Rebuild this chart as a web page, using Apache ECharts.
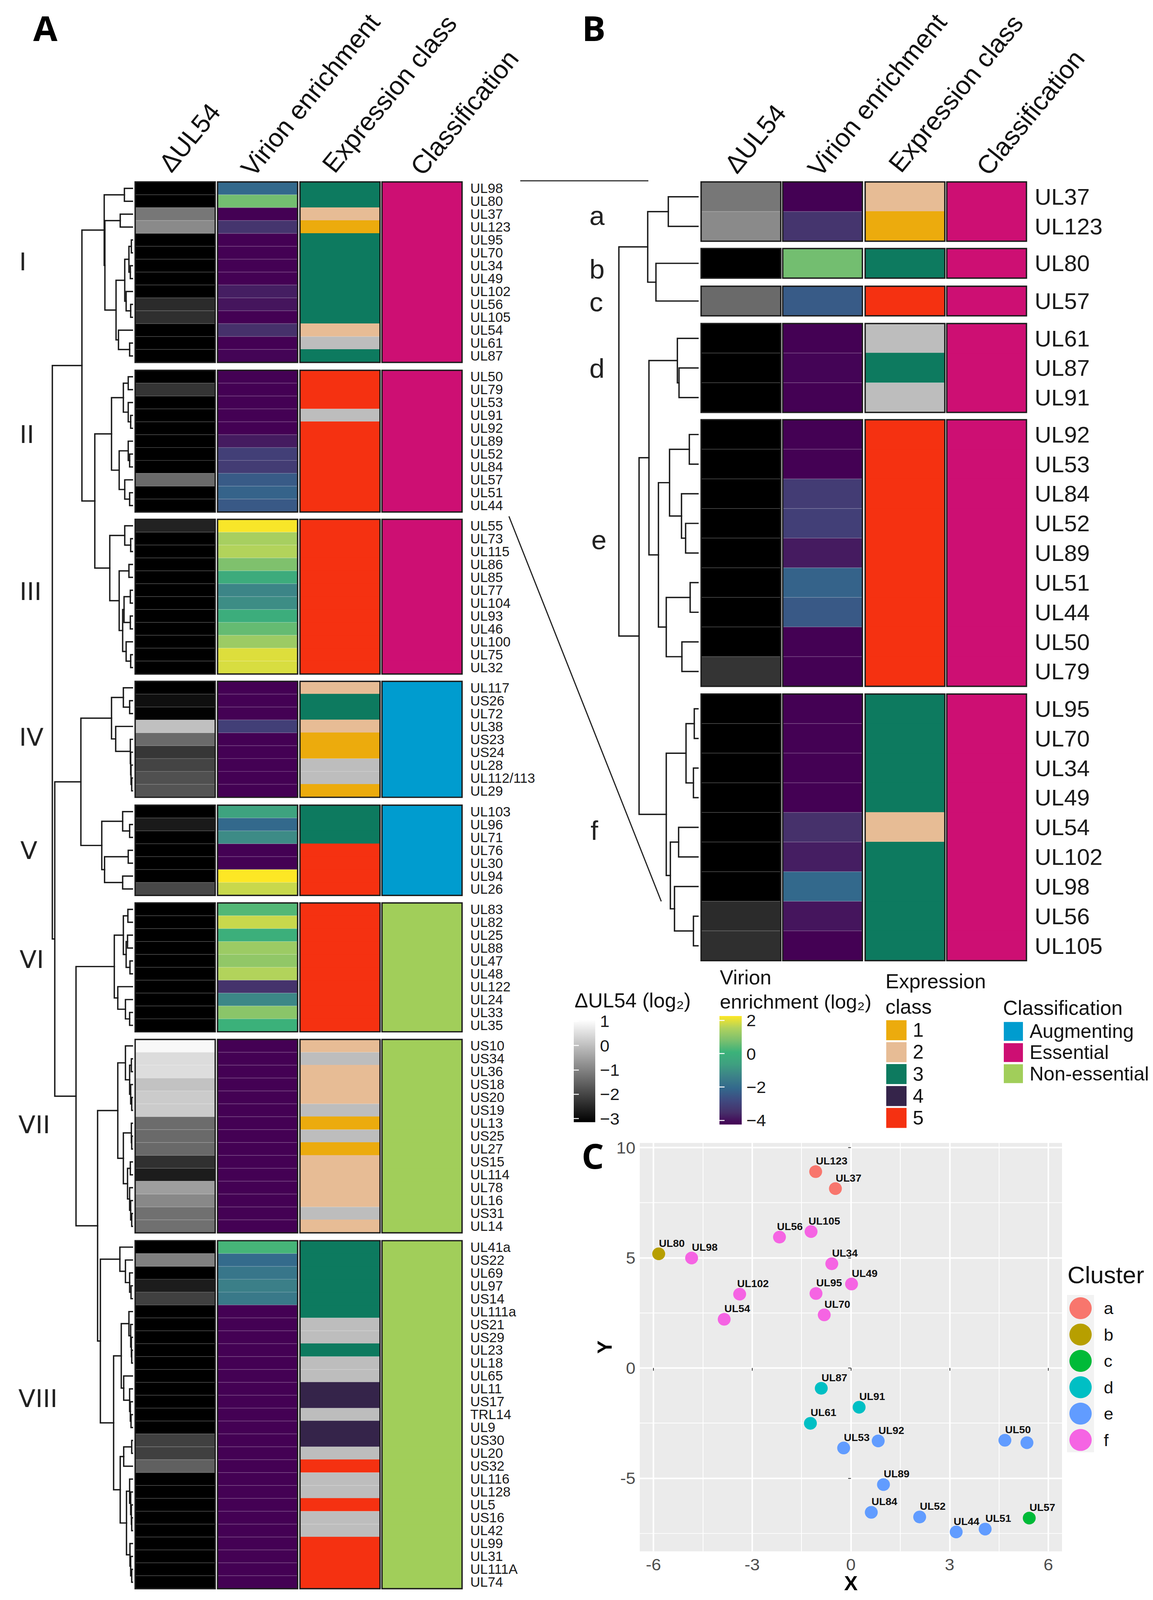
<!DOCTYPE html>
<html><head><meta charset="utf-8">
<style>html,body{margin:0;padding:0;background:#fff;overflow:hidden;width:100%;height:100%}#c{width:2952px;height:4159px;transform-origin:0 0}</style>
<script src="https://cdn.jsdelivr.net/npm/echarts@6/dist/echarts.min.js"></script>
</head><body><div id="c"></div>
<script>
// ---------- DATA: panel A ----------
const columns = ['ΔUL54','Virion enrichment','Expression class','Classification'];
const roman = ['I','II','III','IV','V','VI','VII','VIII'];
const genesA = [
 ['UL98','UL80','UL37','UL123','UL95','UL70','UL34','UL49','UL102','UL56','UL105','UL54','UL61','UL87'],
 ['UL50','UL79','UL53','UL91','UL92','UL89','UL52','UL84','UL57','UL51','UL44'],
 ['UL55','UL73','UL115','UL86','UL85','UL77','UL104','UL93','UL46','UL100','UL75','UL32'],
 ['UL117','US26','UL72','UL38','US23','US24','UL28','UL112/113','UL29'],
 ['UL103','UL96','UL71','UL76','UL30','UL94','UL26'],
 ['UL83','UL82','UL25','UL88','UL47','UL48','UL122','UL24','UL33','UL35'],
 ['US10','US34','UL36','US18','US20','US19','UL13','US25','UL27','US15','UL114','UL78','UL16','US31','UL14'],
 ['UL41a','US22','UL69','UL97','US14','UL111a','US21','US29','UL23','UL18','UL65','UL11','US17','TRL14','UL9','US30','UL20','US32','UL116','UL128','UL5','US16','UL42','UL99','UL31','UL111A','UL74']
];
const deltaA = [
 [-3.15,-3.15,-1.19,-0.88,-3.15,-3.15,-3.15,-3.15,-3.15,-2.44,-2.38,-3.15,-3.15,-3.15],
 [-3.15,-2.29,-3.15,-3.15,-3.15,-3.15,-3.15,-3.15,-1.4,-3.15,-3.15],
 [-2.59,-3.15,-3.15,-3.15,-3.15,-3.15,-3.15,-3.15,-3.15,-3.15,-3.15,-3.15],
 [-3.15,-2.9,-3.12,0.01,-1.4,-2.26,-2.03,-1.83,-1.77],
 [-3.15,-2.72,-3.15,-3.15,-3.15,-3.15,-1.96],
 [-3.15,-3.15,-3.15,-3.15,-3.15,-3.15,-3.15,-3.15,-3.15,-3.15],
 [0.93,0.47,0.49,0.05,0.19,0.19,-1.37,-1.4,-1.42,-2.36,-2.69,-0.55,-0.91,-1.3,-1.3],
 [-3.15,-1.04,-3.15,-2.69,-2.1,-3.15,-3.15,-3.15,-3.15,-3.15,-3.15,-3.15,-3.15,-3.15,-3.15,-2.1,-2.1,-1.57,-3.15,-3.15,-3.15,-3.15,-3.15,-3.15,-3.15,-3.15,-3.15]
];
const virionA = [
 [-2.05,0.7,-4.25,-3.4,-4.25,-4.25,-4.25,-4.25,-3.8,-3.95,-4.25,-3.5,-4.25,-4.2],
 [-4.25,-4.25,-4.25,-4.25,-4.25,-3.85,-3.1,-3.2,-2.4,-2.2,-2.45],
 [2.2,1.4,1.55,0.85,-0.2,-1.3,-1.1,-0.1,0.55,1.25,1.95,1.9],
 [-4.25,-4.25,-4.25,-3.1,-4.25,-4.25,-4.25,-4.25,-4.25],
 [-0.5,-2.05,-1.15,-4.25,-4.25,2.25,1.75],
 [0.35,1.75,-0.05,1.25,1.1,1.55,-3.45,-1.25,1.0,0.05],
 [-4.25,-4.25,-4.25,-4.25,-4.25,-4.25,-4.25,-4.25,-4.25,-4.25,-4.25,-4.25,-4.25,-4.25,-4.25],
 [0.2,-2.0,-1.7,-1.45,-1.6,-4.25,-4.25,-4.25,-4.25,-4.25,-4.25,-4.25,-4.25,-4.25,-4.25,-4.25,-4.25,-4.25,-4.25,-4.25,-4.25,-4.25,-4.25,-4.25,-4.25,-4.25,-4.25]
];
// 0 = no class assigned (drawn grey)
const exprA = [
 [3,3,2,1,3,3,3,3,3,3,3,2,0,3],
 [5,5,5,0,5,5,5,5,5,5,5],
 [5,5,5,5,5,5,5,5,5,5,5,5],
 [2,3,3,2,1,1,0,0,1],
 [3,3,3,5,5,5,5],
 [5,5,5,5,5,5,5,5,5,5],
 [2,0,2,2,2,0,1,0,1,2,2,2,2,0,2],
 [3,3,3,3,3,3,0,0,3,0,0,4,4,0,4,4,0,5,0,0,5,0,0,5,5,5,5]
];
const classA = [2,2,2,1,1,3,3,3]; // 1 Augmenting, 2 Essential, 3 Non-essential
const treeA = [230,
 [145,
  [81,[23,'UL98','UL80'],[79,[35,'UL37','UL123'],[47,
    [22,[10,[3,'UL95','UL70'],[6,'UL34','UL49']],[18,'UL102',[5,'UL56','UL105']]],
    [40,'UL54',[8,'UL61','UL87']]]]],
  [108,
   [60,[26,[12,'UL50','UL79'],[12,'UL53',[5,'UL91','UL92']]],
       [38,[12,'UL89',[8,'UL52','UL84']],[22,'UL57',[8,'UL51','UL44']]]],
   [65,[22,'UL55',[5,'UL73','UL115']],
       [38,[10,'UL86','UL85'],[28,[24,[6,'UL77','UL104'],[6,'UL93','UL46']],[18,'UL100',[5,'UL75','UL32']]]]]]],
 [223,
  [148,
   [60,[26,'UL117',[8,'US26','UL72']],[48,'UL38',[6,'US23',[5,'US24',[4,'UL28',[2,'UL112/113','UL29']]]]]],
   [88,[28,'UL103',[8,'UL96','UL71']],[80,[12,'UL76','UL30'],[28,'UL94','UL26']]]],
  [162,
   [52,[26,[13,'UL83','UL82'],[18,[14,'UL25','UL88'],[7,'UL47','UL48']]],[42,'UL122',[20,'UL24',[8,'UL33','UL35']]]],
   [100,
    [42,[20,'US10',[8,[3,'US34','UL36'],[5,'US18',[2,'US20','US19']]]],
        [26,[3,'UL13',[2,'US25','UL27']],[14,[6,'US15','UL114'],[8,'UL78',[5,'UL16',[2,'US31','UL14']]]]]],
    [92,[36,'UL41a',[20,'US22',[8,'UL69',[4,'UL97','US14']]]],
        [54,[32,[10,'UL111a',[5,'US21',[3,'US29',[2,'UL23','UL18']]]],
                [25,'UL65',[8,'UL11',[6,'US17',[4,'TRL14','UL9']]]]],
            [35,[25,[2,'US30','UL20'],'US32'],
                [17,[8,'UL116',[5,'UL128',[3,'UL5',[2,'US16','UL42']]]],[7,'UL99',[5,'UL31',[2,'UL111A','UL74']]]]]]]]]]
];
// ---------- DATA: panel B ----------
const lettersB = ['a','b','c','d','e','f'];
const genesB = [
 ['UL37','UL123'],['UL80'],['UL57'],['UL61','UL87','UL91'],
 ['UL92','UL53','UL84','UL52','UL89','UL51','UL44','UL50','UL79'],
 ['UL95','UL70','UL34','UL49','UL54','UL102','UL98','UL56','UL105']
];
const treeB = [192,
 [122,[72,'UL37','UL123'],[102,'UL80','UL57']],
 [143,
  [119,[50,'UL61',[46,'UL87','UL91']],
       [96,[69,[21,'UL92','UL53'],[40,'UL84',[30,'UL52','UL89']]],[77,[19,'UL51','UL44'],[39,'UL50','UL79']]]],
  [77,[29,[9,'UL95','UL70'],[11,'UL34','UL49']],[67,[47,'UL54','UL102'],[57,'UL98',[11,'UL56','UL105']]]]]
];
// ---------- DATA: panel C ----------
const clusterNames = ['a','b','c','d','e','f'];
const clusterColors = ['#F8766D','#B79F00','#00BA38','#00BFC4','#619CFF','#F564E3'];
const pointsA = [['UL123',-1.07,8.91],['UL37',-0.47,8.14]];
const pointsB = [['UL80',-5.84,5.18]];
const pointsC = [['UL57',5.42,-6.81]];
const pointsD = [['UL87',-0.90,-0.92],['UL91',0.25,-1.78],['UL61',-1.23,-2.51]];
const pointsE = [['UL92',0.83,-3.31],['UL53',-0.22,-3.63],['UL50',4.68,-3.28],['UL79',5.35,-3.39],['UL89',0.99,-5.29],['UL84',0.62,-6.55],['UL52',2.09,-6.76],['UL44',3.2,-7.44],['UL51',4.08,-7.31]];
const pointsF = [['UL56',-2.17,5.94],['UL105',-1.21,6.19],['UL98',-4.84,4.99],['UL34',-0.58,4.73],['UL49',0.02,3.81],['UL95',-1.06,3.38],['UL102',-3.38,3.35],['UL70',-0.81,2.41],['UL54',-3.85,2.21]];
const unlabeled = ['UL79'];
const labelShiftLeft = ['UL56','UL105','UL102','UL44'];
const expressionLegend = ['1','2','3','4','5'];
const classLegend = ['Augmenting','Essential','Non-essential'];
const deltaTicks = [-3,-2,-1,0,1];
const virionTicks = [-4,-2,0,2];
const xMajor = [-6,-3,0,3,6], xMinor = [-4.5,-1.5,1.5,4.5];
const yMajor = [-5,0,5,10], yMinor = [-7.5,-2.5,2.5,7.5];

// ---------- STYLE / LAYOUT ----------
const W = 2952, H = 4159, SANS = '"Liberation Sans", Arial, sans-serif';
// The browser window can come out shorter than the drawing; keep the whole figure inside it.
const fitY = Math.min(1, window.innerHeight / H);
document.getElementById('c').style.transform = 'scale(1,' + fitY + ')';
const GREYS = ['#000000','#ffffff'];
const VIRIDIS = ['#440154','#46306a','#3f4a80','#33688c','#3c8288','#3fa080','#3bb27a','#7cc06e','#b0d25d','#fde725'];
const EXPR = ['#ECAB0D','#E7BC95','#0D7A5F','#35244A','#F53111'], NA = '#BDBDBD';
const CLS = ['#009CCF','#CD0F73','#A1CE5A'];
const deltaRange = [-3.15,1.05], virionRange = [-4.25,2.25];
const layoutA = {x:[346,557,768,978], w:205, tops:[473,962.5,1350,1771,2093,2347,2702,3225], row:33.5, font:35, tree:{left:134,width:205}};
const layoutB = {x:[1795,2004,2215,2424], w:204, tops:[473,646,744,841,1091,1804], row:77, font:59, tree:{left:1584.5,width:202.5}};

const deltaOf={},virionOf={},exprOf={},classOf={};
genesA.forEach((g,c)=>g.forEach((n,i)=>{deltaOf[n]=deltaA[c][i];virionOf[n]=virionA[c][i];exprOf[n]=exprA[c][i];classOf[n]=classA[c];}));
const getters=[n=>deltaOf[n],n=>virionOf[n],n=>exprOf[n],n=>classOf[n]];
const SEP='rgba(255,255,255,0.28)';
// cell border: pale separators on the numeric columns and grey cells, own colour elsewhere (closes hairline seams)
const cellStyle=(j,v)=>{
 if(j<2) return {borderColor:SEP,borderWidth:1.5};
 if(j===2) return v===0?{borderColor:SEP,borderWidth:1.5}:{borderColor:EXPR[v-1],borderWidth:1.2};
 return {borderColor:CLS[v-1],borderWidth:1.2};
};

const grid=[],xAxis=[],yAxis=[],series=[],byCol=[[],[],[],[]];
function addPanel(genes,L){
 genes.forEach((names,c)=>{
  getters.forEach((get,j)=>{
   const g=grid.length;
   grid.push({left:L.x[j],top:L.tops[c],width:L.w,height:names.length*L.row,show:true,backgroundColor:'transparent',borderColor:'#1c1c1c',borderWidth:3.5,z:5});
   xAxis.push({type:'category',gridIndex:g,data:[columns[j]],show:false});
   yAxis.push({type:'category',gridIndex:g,data:names,inverse:true,position:'right',axisLine:{show:false},axisTick:{show:false},splitLine:{show:false},
     axisLabel:{show:j===3,interval:0,fontSize:L.font,margin:21,color:'#1a1a1a',fontFamily:SANS}});
   byCol[j].push(series.length);
   series.push({type:'heatmap',xAxisIndex:g,yAxisIndex:g,silent:true,
     data:names.map((n,i)=>({value:[0,i,get(n)],itemStyle:cellStyle(j,get(n))}))});
  });
 });
}
addPanel(genesA,layoutA); addPanel(genesB,layoutB);

function addTree(tree,genes,L){
 const ypos={};
 genes.forEach((names,c)=>names.forEach((n,i)=>{ypos[n]=L.tops[c]+(i+.5)*L.row;}));
 const paths=[];
 (function walk(node){
  if(typeof node==='string') return [0,ypos[node]];
  const a=walk(node[1]),b=walk(node[2]);
  paths.push({coords:[[a[0],a[1]],[node[0],a[1]],[node[0],b[1]],[b[0],b[1]]]});
  return [node[0],(a[1]+b[1])/2];
 })(tree);
 const g=grid.length;
 grid.push({left:L.tree.left,top:0,width:L.tree.width,height:H,show:false});
 xAxis.push({type:'value',gridIndex:g,min:0,max:tree[0],inverse:true,show:false});
 yAxis.push({type:'value',gridIndex:g,min:0,max:H,inverse:true,show:false});
 series.push({type:'lines',coordinateSystem:'cartesian2d',xAxisIndex:g,yAxisIndex:g,polyline:true,silent:true,data:paths,
   lineStyle:{color:'#1a1a1a',width:3.5,opacity:1,cap:'square',join:'miter'}});
}
addTree(treeA,genesA,layoutA); addTree(treeB,genesB,layoutB);

// colour bars
function addBar(box,range,ticks,cols){
 const g=grid.length;
 grid.push({left:box[0],top:box[1],width:box[2],height:box[3],show:true,borderWidth:0,
   backgroundColor:new echarts.graphic.LinearGradient(0,1,0,0,cols.map((c,i)=>({offset:i/(cols.length-1),color:c})))});
 xAxis.push({type:'value',gridIndex:g,min:0,max:1,show:false});
 const base={type:'value',gridIndex:g,min:range[0],max:range[1],splitLine:{show:false},axisLine:{show:false},
   axisTick:{show:true,inside:true,length:13,customValues:ticks,lineStyle:{color:'#fff',width:2.5}}};
 yAxis.push(Object.assign({},base,{position:'right',axisLabel:{customValues:ticks,margin:12,fontSize:44,color:'#1a1a1a',fontFamily:SANS,formatter:v=>String(v).replace('-','−')}}));
 yAxis.push(Object.assign({},base,{position:'left',axisLabel:{show:false}}));
}
addBar([1469,2651,55,266],deltaRange,deltaTicks,GREYS);
addBar([1842,2641,57,282],virionRange,virionTicks,VIRIDIS);

// scatter
const gC=grid.length;
grid.push({left:1638,top:2971,width:1081,height:1061.5,show:true,backgroundColor:'#EBEBEB',borderWidth:0});
const sl=(w)=>({show:true,lineStyle:{color:'#fff',width:w,type:'solid'}});
const xBase={type:'value',gridIndex:gC,min:-6.415,max:6.415};
const yBase={type:'value',gridIndex:gC,min:-8.32,max:10.21};
const tickLab={fontSize:44,color:'#4d4d4d',fontFamily:SANS};
const xC=xAxis.length;
xAxis.push(Object.assign({},xBase,{position:'bottom',splitLine:sl(4),axisLine:{show:false},
  axisTick:{length:7,customValues:xMajor,lineStyle:{color:'#333',width:2}},axisLabel:Object.assign({customValues:xMajor,margin:12},tickLab),
  name:'X',nameLocation:'middle',nameGap:56,nameTextStyle:{fontSize:52,fontWeight:'bold',color:'#000',fontFamily:SANS}}));
xAxis.push(Object.assign({},xBase,{position:'bottom',splitLine:sl(2),axisLine:{show:false},axisLabel:{show:false},axisTick:{show:false,customValues:xMinor}}));
const yC=yAxis.length;
yAxis.push(Object.assign({},yBase,{position:'left',splitLine:sl(4),axisLine:{show:false},
  axisTick:{length:7,customValues:yMajor,lineStyle:{color:'#333',width:2}},axisLabel:Object.assign({customValues:yMajor,margin:11},tickLab),
  name:'Y',nameLocation:'middle',nameGap:31,nameTextStyle:{fontSize:52,fontWeight:'bold',color:'#000',fontFamily:SANS}}));
yAxis.push(Object.assign({},yBase,{position:'left',splitLine:sl(2),axisLine:{show:false},axisLabel:{show:false},axisTick:{show:false,customValues:yMinor}}));
[pointsA,pointsB,pointsC,pointsD,pointsE,pointsF].forEach((pts,i)=>{
 series.push({type:'scatter',name:clusterNames[i],xAxisIndex:xC,yAxisIndex:yC,symbolSize:33,silent:true,z:4,
  itemStyle:{color:clusterColors[i],opacity:1},
  data:pts.map(p=>({name:p[0],value:[p[1],p[2]],label:{
     show:!unlabeled.includes(p[0]),position:[labelShiftLeft.includes(p[0])?10:17,-11],
     formatter:p[0],align:'left',verticalAlign:'middle',fontSize:27,fontWeight:'bold',color:'#111',fontFamily:SANS}}))});
});

// text
const text=(t,x,y,size,o={})=>({type:'text',x,y,rotation:o.rot?o.rot*Math.PI/180:0,z:10,silent:true,style:Object.assign({text:t,fontSize:size,fontFamily:o.family||SANS,fontWeight:o.weight||'normal',fill:o.fill||'#111',
   align:o.align||'left',verticalAlign:o.va||'middle',textAlign:o.align||'left',textVerticalAlign:o.va||'middle'})});
const T=[];
[['A',85,72],['B',1490,72],['C',1489,3003]].forEach(a=>T.push(text(a[0],a[1],a[2],90,{family:'"Open Sans"',weight:'bold',fill:'#000'})));
const romanPos=[[49,680],[50,1129],[50,1537],[49,1916],[52,2211],[50,2494],[47,2923],[47,3635]];
roman.forEach((r,i)=>T.push(text(r,romanPos[i][0],romanPos[i][1],64,{family:'"DejaVu Sans"',fill:'#222'})));
const letterPos=[[1509,561],[1509,700],[1509,785],[1509,958],[1514,1403],[1512,2159]];
lettersB.forEach((r,i)=>T.push(text(r,letterPos[i][0],letterPos[i][1],70,{fill:'#222'})));
const hdrA=[[447,458],[657,470],[865,460],[1091,467]], hdrB=[[1895,461],[2108,470],[2315,459],[2540,467]];
[hdrA,hdrB].forEach(h=>columns.forEach((c,i)=>T.push(text(c,h[i][0],h[i][1],67,{rot:51,va:'bottom',fill:'#111'}))));
T.push(text('ΔUL54 (log₂)',1471,2601,52));
T.push(text('Virion',1843,2541,52)); T.push(text('enrichment (log₂)',1843,2604,51));
T.push(text('Expression',2267,2551,52)); T.push(text('class',2267,2617,52));
T.push(text('Classification',2568,2620,52));
T.push(text('Cluster',2733,3314,62));
T.push({type:'rect',z:0,silent:true,shape:{x:2732,y:3366,width:69,height:409},style:{fill:'#F2F2F2'}});
T.push({type:'line',z:1,silent:true,shape:{x1:1332,y1:470,x2:1660,y2:470},style:{stroke:'#222',lineWidth:3}});
T.push({type:'line',z:1,silent:true,shape:{x1:1303,y1:1342,x2:1693,y2:2343},style:{stroke:'#222',lineWidth:3}});

const option={
 animation:false,backgroundColor:'#fff',grid,xAxis,yAxis,series,
 textStyle:{fontFamily:SANS},
 legend:{data:clusterNames,orient:'vertical',left:2738,top:3372,padding:0,itemWidth:57,itemHeight:57,itemGap:11.5,icon:'circle',selectedMode:false,
   textStyle:{fontSize:44,color:'#111',fontFamily:SANS,padding:[0,0,0,26]}},
 visualMap:[
  {type:'continuous',show:false,seriesIndex:byCol[0],min:deltaRange[0],max:deltaRange[1],dimension:2,inRange:{color:GREYS}},
  {type:'continuous',show:false,seriesIndex:byCol[1],min:virionRange[0],max:virionRange[1],dimension:2,inRange:{color:VIRIDIS}},
  {type:'piecewise',seriesIndex:byCol[2],dimension:2,left:2269,top:2652,padding:0,orient:'vertical',inverse:true,align:'left',itemWidth:52,itemHeight:52,itemGap:5,textGap:16,itemSymbol:'rect',
    pieces:expressionLegend.map((l,i)=>({value:i+1,label:l,color:EXPR[i]})),outOfRange:{color:NA},selectedMode:false,textStyle:{fontSize:50,color:'#111',fontFamily:SANS}},
  {type:'piecewise',seriesIndex:byCol[3],dimension:2,left:2570,top:2656,padding:0,orient:'vertical',inverse:true,align:'left',itemWidth:49,itemHeight:49,itemGap:5,textGap:17,itemSymbol:'rect',
    pieces:classLegend.map((l,i)=>({value:i+1,label:l,color:CLS[i]})),selectedMode:false,textStyle:{fontSize:50,color:'#111',fontFamily:SANS}}
 ],
 graphic:{elements:T}
};
const chart=echarts.init(document.getElementById('c'),null,{renderer:'svg',width:W,height:H});
chart.setOption(option);
</script></body></html>
